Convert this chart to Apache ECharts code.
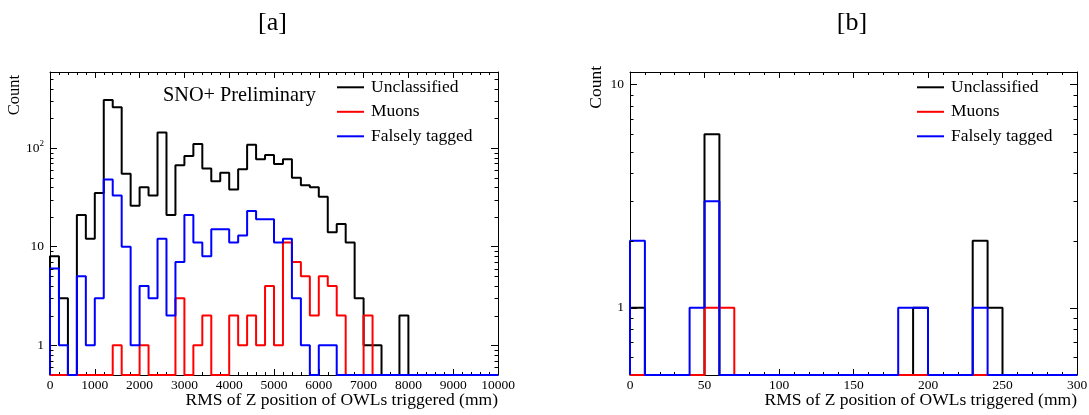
<!DOCTYPE html>
<html>
<head>
<meta charset="utf-8">
<script src="https://cdn.jsdelivr.net/npm/echarts@6/dist/echarts.min.js"></script>
<style>
  html, body { margin: 0; padding: 0; background: #ffffff; }
  #chart { width: 1089px; height: 415px; }
</style>
</head>
<body>
<div id="chart"></div>
<script>
// ---- Panel [a]: 200 mm bins over 0 - 10000 mm ----
const aBinWidth = 200;
const aXRange = [0, 10000];
const aYRange = [0.5, 590];
const aUnclassified = [
  8, 3, 0, 21, 12, 35, 307, 259, 55, 26,
  40, 33, 144, 21, 67, 83, 110, 62, 46, 56,
  38, 61, 108, 77, 85, 69, 77, 50, 42, 40,
  32, 14, 17, 11, 3, 1, 1, 0, 0, 2,
  0, 0, 0, 0, 0, 0, 0, 0, 0, 0
];
const aMuons = [
  0, 0, 0, 0, 0, 0, 0, 1, 0, 0,
  1, 0, 0, 0, 3, 0, 1, 2, 0, 0,
  2, 1, 2, 1, 4, 1, 11, 7, 5, 2,
  5, 4, 2, 0, 0, 2, 0, 0, 0, 0,
  0, 0, 0, 0, 0, 0, 0, 0, 0, 0
];
const aFalselyTagged = [
  6, 1, 0, 5, 1, 3, 48, 33, 10, 1,
  4, 3, 12, 2, 7, 21, 11, 8, 15, 15,
  11, 13, 23, 19, 19, 11, 12, 3, 1, 0,
  1, 1, 0, 0, 0, 0, 0, 0, 0, 0,
  0, 0, 0, 0, 0, 0, 0, 0, 0, 0
];

// ---- Panel [b]: 10 mm bins over 0 - 300 mm ----
const bBinWidth = 10;
const bXRange = [0, 300];
const bYRange = [0.5, 11.4];
const bUnclassified = [
  1, 0, 0, 0, 0, 6, 0, 0, 0, 0,
  0, 0, 0, 0, 0, 0, 0, 0, 0, 1,
  0, 0, 0, 2, 1, 0, 0, 0, 0, 0
];
const bMuons = [
  0, 0, 0, 0, 0, 1, 1, 0, 0, 0,
  0, 0, 0, 0, 0, 0, 0, 0, 0, 0,
  0, 0, 0, 0, 0, 0, 0, 0, 0, 0
];
const bFalselyTagged = [
  2, 0, 0, 0, 1, 3, 0, 0, 0, 0,
  0, 0, 0, 0, 0, 0, 0, 0, 1, 1,
  0, 0, 0, 1, 0, 0, 0, 0, 0, 0
];

const seriesNames = ['Unclassified', 'Muons', 'Falsely tagged'];
const seriesColors = ['#000000', '#ff0000', '#0000ff'];
const titles = ['[a]', '[b]'];
const xTitle = 'RMS of Z position of OWLs triggered (mm)';
const yTitle = 'Count';
const watermark = 'SNO+ Preliminary';

const SERIF = '"Liberation Serif", "DejaVu Serif", serif';

// Histogram outline: empty bins sit on the lower edge of the log axis
function histogramOutline(counts, binWidth, x0, floor) {
  const yOf = c => (c > 0 ? c : floor);
  const pts = [[x0, floor]];
  counts.forEach((c, i) => pts.push([x0 + i * binWidth, yOf(c)]));
  const xEnd = x0 + counts.length * binWidth;
  pts.push([xEnd, yOf(counts[counts.length - 1])]);
  pts.push([xEnd, floor]);
  return pts;
}

// Log-axis minor tick positions (2..9 times each decade) inside a range
function logMinorTicks(range) {
  const out = [];
  for (let d = -2; d <= 4; d++) {
    for (let m = 2; m <= 9; m++) {
      const v = m * Math.pow(10, d);
      if (v > range[0] && v < range[1]) out.push(v);
    }
  }
  return out;
}

function powerLabel(v) {
  const e = Math.log10(v);
  const r = Math.round(e);
  if (Math.abs(e - r) > 1e-6) return '';
  if (r === 0) return '{n|1}';
  if (r === 1) return '{n|10}';
  return '{n|10}{s|' + r + '}';
}

const axisLineStyle = { show: true, onZero: false, lineStyle: { color: '#000', width: 1 } };

function xAxes(gridIndex, range, interval) {
  const base = {
    gridIndex, type: 'value', min: range[0], max: range[1], interval,
    axisLine: axisLineStyle,
    axisTick: { show: true, inside: true, length: 6, lineStyle: { color: '#000', width: 1 } },
    minorTick: { show: true, splitNumber: 5, length: 3, lineStyle: { color: '#000', width: 1 } },
    splitLine: { show: false },
    minorSplitLine: { show: false }
  };
  return [
    Object.assign({}, base, {
      position: 'bottom',
      axisLabel: {
        show: true, margin: 3, color: '#000', fontFamily: SERIF, fontSize: 13.5,
        formatter: v => String(v)
      }
    }),
    Object.assign({}, base, { position: 'top', axisLabel: { show: false } })
  ];
}

function yAxes(gridIndex, range) {
  const base = {
    gridIndex, type: 'log', logBase: 10, min: range[0], max: range[1],
    axisLine: axisLineStyle,
    axisTick: { show: true, inside: true, length: 7, lineStyle: { color: '#000', width: 1 } },
    splitLine: { show: false }
  };
  return [
    Object.assign({}, base, {
      position: 'left',
      axisLabel: {
        show: true, margin: 6, color: '#000', formatter: powerLabel,
        rich: {
          n: { fontFamily: SERIF, fontSize: 13.5, color: '#000' },
          s: { fontFamily: SERIF, fontSize: 9, color: '#000', padding: [0, 0, 8, 0] }
        }
      }
    }),
    Object.assign({}, base, { position: 'right', axisLabel: { show: false } })
  ];
}

function histSeries(name, color, counts, binWidth, range, yRange, axisIndex) {
  return {
    type: 'line', name, xAxisIndex: axisIndex, yAxisIndex: axisIndex,
    data: histogramOutline(counts, binWidth, range[0], yRange[0]),
    step: 'end', symbol: 'none', showSymbol: false, animation: false,
    lineStyle: { color, width: 2 }, itemStyle: { color }
  };
}

function minorTickSeries(axisIndex, yRange) {
  return {
    type: 'custom', xAxisIndex: axisIndex, yAxisIndex: axisIndex, silent: true, z: 5,
    animation: false, clip: false,
    data: logMinorTicks(yRange).map(v => [0, v]),
    encode: { x: 0, y: 1 },
    renderItem(params, api) {
      const cs = params.coordSys;
      const y = Math.round(api.coord([api.value(0), api.value(1)])[1]) + 0.5;
      const L = 3.5;
      return {
        type: 'group',
        children: [
          { type: 'line', shape: { x1: cs.x, y1: y, x2: cs.x + L, y2: y }, style: { stroke: '#000', lineWidth: 1 } },
          { type: 'line', shape: { x1: cs.x + cs.width - L, y1: y, x2: cs.x + cs.width, y2: y }, style: { stroke: '#000', lineWidth: 1 } }
        ]
      };
    }
  };
}

function legendFor(left) {
  return {
    left, top: 77.3, orient: 'vertical', padding: 0, icon: 'rect',
    itemWidth: 27, itemHeight: 2, itemGap: 4.5, selectedMode: false,
    itemStyle: { borderWidth: 0 },
    data: seriesNames,
    textStyle: { fontFamily: SERIF, fontSize: 17.5, color: '#000', lineHeight: 20, padding: [0, 0, 0, 2] }
  };
}

const chart = echarts.init(document.getElementById('chart'), null, { renderer: 'canvas' });

const aCounts = [aUnclassified, aMuons, aFalselyTagged];
const bCounts = [bUnclassified, bMuons, bFalselyTagged];

chart.setOption({
  animation: false,
  backgroundColor: '#ffffff',
  grid: [
    { left: 50, top: 72, width: 448, height: 303, outerBoundsMode: 'none' },
    { left: 630, top: 72, width: 447, height: 303, outerBoundsMode: 'none' }
  ],
  xAxis: [].concat(xAxes(0, aXRange, 1000), xAxes(1, bXRange, 50)),
  yAxis: [].concat(yAxes(0, aYRange), yAxes(1, bYRange)),
  legend: [legendFor(337), legendFor(917)],
  series: [].concat(
    seriesNames.map((n, i) => histSeries(n, seriesColors[i], aCounts[i], aBinWidth, aXRange, aYRange, 0)),
    seriesNames.map((n, i) => histSeries(n, seriesColors[i], bCounts[i], bBinWidth, bXRange, bYRange, 2)),
    [minorTickSeries(0, aYRange), minorTickSeries(2, bYRange)]
  ),
  graphic: [
    { type: 'text', x: 272.5, y: 23, style: { text: titles[0], font: '26px ' + SERIF, fill: '#000', align: 'center', verticalAlign: 'middle' } },
    { type: 'text', x: 852, y: 23, style: { text: titles[1], font: '26px ' + SERIF, fill: '#000', align: 'center', verticalAlign: 'middle' } },
    { type: 'text', x: 163, y: 96, style: { text: watermark, font: '20.3px ' + SERIF, fill: '#000', align: 'left', verticalAlign: 'middle' } },
    { type: 'text', x: 14.5, y: 75, rotation: Math.PI / 2, style: { text: yTitle, font: '16.5px ' + SERIF, fill: '#000', align: 'right', verticalAlign: 'middle' } },
    { type: 'text', x: 596, y: 66, rotation: Math.PI / 2, style: { text: yTitle, font: '17.5px ' + SERIF, fill: '#000', align: 'right', verticalAlign: 'middle' } },
    { type: 'text', x: 498, y: 400, style: { text: xTitle, font: '17.5px ' + SERIF, fill: '#000', align: 'right', verticalAlign: 'middle' } },
    { type: 'text', x: 1077, y: 400, style: { text: xTitle, font: '17.5px ' + SERIF, fill: '#000', align: 'right', verticalAlign: 'middle' } }
  ]
});
</script>
</body>
</html>
